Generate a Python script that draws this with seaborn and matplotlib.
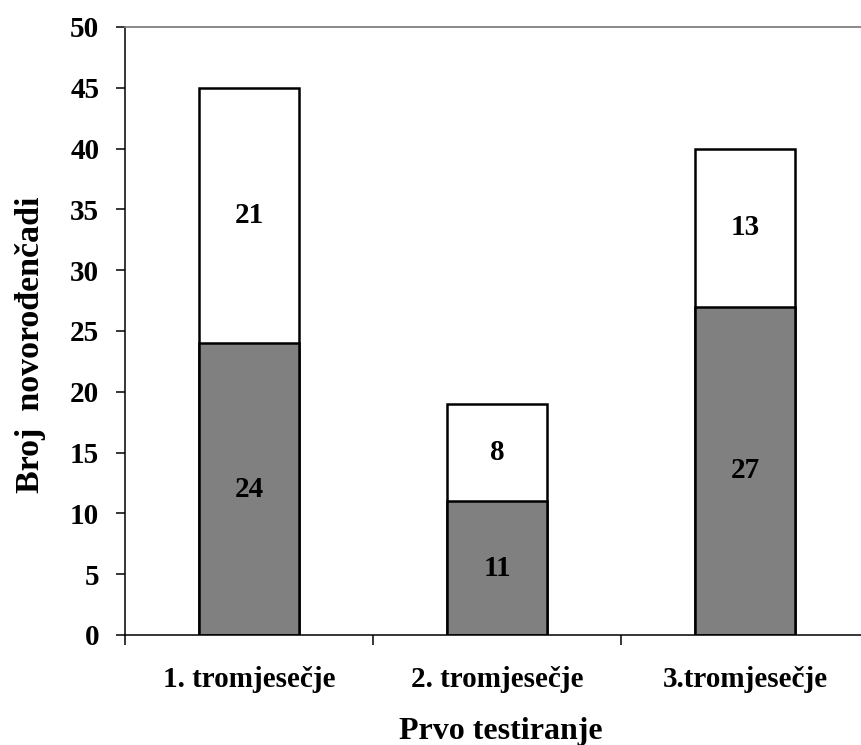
import pandas as pd
import seaborn as sns
from matplotlib import pyplot as plt
from matplotlib.ticker import FixedLocator

# podaci
kategorije = ['1. tromjesečje', '2. tromjesečje', '3.tromjesečje']
donji = [24, 11, 27]     # sivi dio
gornji = [21, 8, 13]     # bijeli dio

df = pd.DataFrame({'kat': kategorije, 'donji': donji, 'gornji': gornji})
df['ukupno'] = df['donji'] + df['gornji']

sns.set_style('white')
plt.rcParams['font.family'] = ['Liberation Serif', 'DejaVu Serif']
plt.rcParams['font.weight'] = 'bold'
plt.rcParams['text.color'] = 'black'
plt.rcParams['axes.labelcolor'] = 'black'
plt.rcParams['xtick.color'] = 'black'
plt.rcParams['ytick.color'] = 'black'

fig = plt.figure(figsize=(8.62, 7.45), dpi=100)
ax = fig.add_axes([0.145, 0.1477, 0.8631, 0.8161])

# ukupno (bijeli) pa donji dio (sivi) preko njega
sns.barplot(data=df, x='kat', y='ukupno', color='white', edgecolor='black',
            linewidth=1.8, width=0.4, ax=ax, saturation=1)
sns.barplot(data=df, x='kat', y='donji', color='#808080', edgecolor='black',
            linewidth=1.8, width=0.4, ax=ax, saturation=1)

# oznake vrijednosti u sredini segmenata
for i, row in df.iterrows():
    ax.text(i, row['donji'] / 2, str(row['donji']), ha='center', va='center',
            fontsize=21, fontweight='bold', color='black')
    ax.text(i, row['donji'] + row['gornji'] / 2, str(row['gornji']), ha='center',
            va='center', fontsize=21, fontweight='bold', color='black')

ax.set_xlim(-0.5, 2.5)
ax.set_ylim(0, 50)
ax.set_yticks(range(0, 51, 5))

ax.xaxis.set_minor_locator(FixedLocator([-0.5, 0.5, 1.5, 2.5]))
ax.tick_params(axis='x', which='major', length=0, pad=22, labelsize=21)
ax.tick_params(axis='x', which='minor', length=7, width=1.1, direction='out', bottom=True)
ax.tick_params(axis='y', which='major', length=6.5, width=1.1, direction='out', left=True,
               pad=12, labelsize=21)
for lbl in ax.get_xticklabels() + ax.get_yticklabels():
    lbl.set_fontweight('bold')
    lbl.set_color('black')

ax.set_xlabel('Prvo testiranje', fontsize=23, fontweight='bold', va='top', color='black')
ax.set_ylabel('Broj  novorođenčadi', fontsize=24.5, fontweight='bold', color='black')
ax.xaxis.set_label_coords(0.505, -0.135)
ax.yaxis.set_label_coords(-0.106, 0.477)

ax.spines['right'].set_visible(False)
ax.spines['top'].set_color('#808080')
ax.spines['top'].set_linewidth(1.3)
ax.spines['left'].set_color('black')
ax.spines['bottom'].set_color('black')
ax.spines['left'].set_linewidth(1.1)
ax.spines['bottom'].set_linewidth(1.1)

fig.savefig('out.png', dpi=100)
